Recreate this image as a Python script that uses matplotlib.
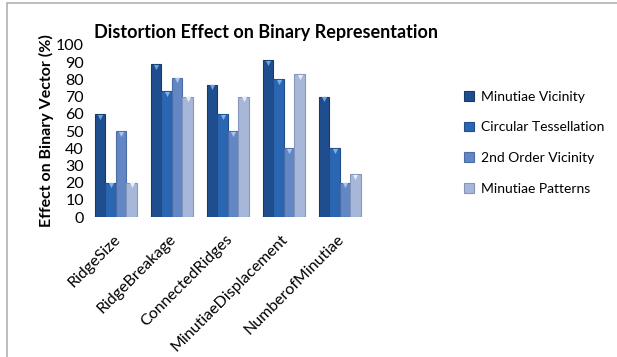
import matplotlib
matplotlib.use("Agg")
import matplotlib.pyplot as plt
import numpy as np
from matplotlib.patches import Rectangle

categories = ["RidgeSize", "RidgeBreakage", "ConnectedRidges", "MinutiaeDisplacement", "NumberofMinutiae"]
series_names = ["Minutiae Vicinity", "Circular Tessellation", "2nd Order Vicinity", "Minutiae Patterns"]
minutiae_vicinity = [60, 89, 77, 91, 70]
circular_tessellation = [20, 73, 60, 80, 40]
second_order_vicinity = [50, 81, 50, 40, 20]
minutiae_patterns = [20, 70, 70, 83, 25]
yticks = [0, 10, 20, 30, 40, 50, 60, 70, 80, 90, 100]

series = [minutiae_vicinity, circular_tessellation, second_order_vicinity, minutiae_patterns]
colors = ["#1F4E8E", "#2B66B2", "#6387C4", "#A6B7DA"]
edges = ["#163A6A", "#1E4E8C", "#4A6DA6", "#8596BA"]
tips = ["#6FA0DC", "#7FB0EA", "#A9C4EC", "#E4ECF8"]

plt.rcParams['font.family'] = ['Lato', 'DejaVu Sans']

fig = plt.figure(figsize=(6.17, 3.57), dpi=100)
ax = fig.add_axes([0.1426, 0.392, 0.4534, 0.482])

x = np.arange(len(categories))
w = 0.1875
for i, (vals, c, e, t) in enumerate(zip(series, colors, edges, tips)):
    pos = x - 1.5 * w + i * w
    ax.bar(pos, vals, width=w, color=c, edgecolor=e, linewidth=0.8, label=series_names[i])
    ax.scatter(pos, np.array(vals) - 1.6, marker='v', s=14, color=t, zorder=3, linewidths=0)

ax.set_xlim(-0.5, len(categories) - 0.5)
ax.set_ylim(0, 100)
ax.set_yticks(yticks)
ax.set_yticklabels([str(v) for v in yticks], fontsize=11.5)
ax.set_xticks(x - 0.05)
ax.set_xticklabels(categories, rotation=45, ha='right', rotation_mode='anchor', fontsize=11.5)
ax.tick_params(axis='both', length=0, pad=3)
ax.tick_params(axis='x', pad=11)
for s in ax.spines.values():
    s.set_visible(False)
ax.set_ylabel("Effect on Binary Vector (%)", fontsize=11.5, fontweight='bold', labelpad=1)

fig.text(0.431, 0.91, "Distortion Effect on Binary Representation", ha='center', va='center',
         fontsize=13, fontweight='bold')

handles, labels = ax.get_legend_handles_labels()
fig.legend(handles, labels, loc='center left', bbox_to_anchor=(0.752, 0.6), frameon=False,
           fontsize=10, handlelength=0.7, handleheight=0.7, labelspacing=1.35, handletextpad=0.5,
           borderaxespad=0, borderpad=0)

fig.patches.append(Rectangle((7/617, -0.01), 1.0, 1 - 3/357 + 0.01, transform=fig.transFigure,
                             fill=False, edgecolor="#B0B0B0", linewidth=1.2))

fig.savefig("out.png", dpi=100, facecolor='white')
